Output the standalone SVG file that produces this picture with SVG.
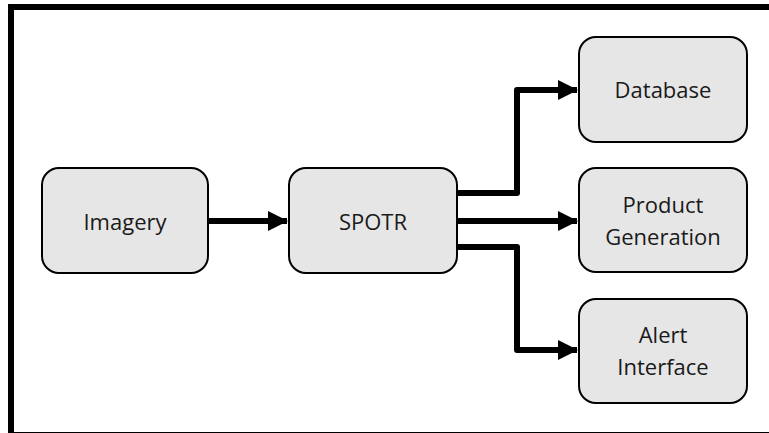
<svg xmlns="http://www.w3.org/2000/svg" width="769" height="433" viewBox="0 0 769 433">
  <style>
    .box { fill: #e6e6e6; stroke: #000; stroke-width: 2; }
    .lbl { font-family: "Open Sans", "Liberation Sans", sans-serif; font-size: 22px; fill: #1a1a1a; text-anchor: middle; }
    .wire { fill: none; stroke: #000; stroke-width: 6; stroke-linejoin: round; }
  </style>
  <defs>
    <marker id="head" viewBox="0 0 20 20" refX="19" refY="10" markerWidth="20" markerHeight="20" markerUnits="userSpaceOnUse" orient="auto">
      <path d="M0,0 L20,10 L0,20 Z" fill="#000"/>
    </marker>
  </defs>
  <rect width="769" height="433" fill="#fff"/>
  <!-- outer frame -->
  <rect x="11" y="7" width="790" height="428" fill="none" stroke="#000" stroke-width="6"/>

  <g id="connectors">
    <path class="wire" d="M208,221 H287" marker-end="url(#head)"/>
    <path class="wire" d="M457,193 H517 V90 H577" marker-end="url(#head)"/>
    <path class="wire" d="M457,221 H577" marker-end="url(#head)"/>
    <path class="wire" d="M457,247 H517 V350 H577" marker-end="url(#head)"/>
  </g>

  <g id="imagery">
    <rect class="box" x="42" y="168" width="166" height="105" rx="17"/>
    <text class="lbl" x="125" y="230">Imagery</text>
  </g>
  <g id="spotr">
    <rect class="box" x="289" y="168" width="168" height="105" rx="17"/>
    <text class="lbl" x="373" y="230">SPOTR</text>
  </g>
  <g id="database">
    <rect class="box" x="579" y="37" width="168" height="105" rx="17"/>
    <text class="lbl" x="663" y="98">Database</text>
  </g>
  <g id="product-generation">
    <rect class="box" x="579" y="168" width="168" height="104" rx="17"/>
    <text class="lbl" x="663" y="213">Product</text>
    <text class="lbl" x="663" y="245">Generation</text>
  </g>
  <g id="alert-interface">
    <rect class="box" x="579" y="299" width="168" height="104" rx="17"/>
    <text class="lbl" x="663" y="343">Alert</text>
    <text class="lbl" x="663" y="375">Interface</text>
  </g>
</svg>
